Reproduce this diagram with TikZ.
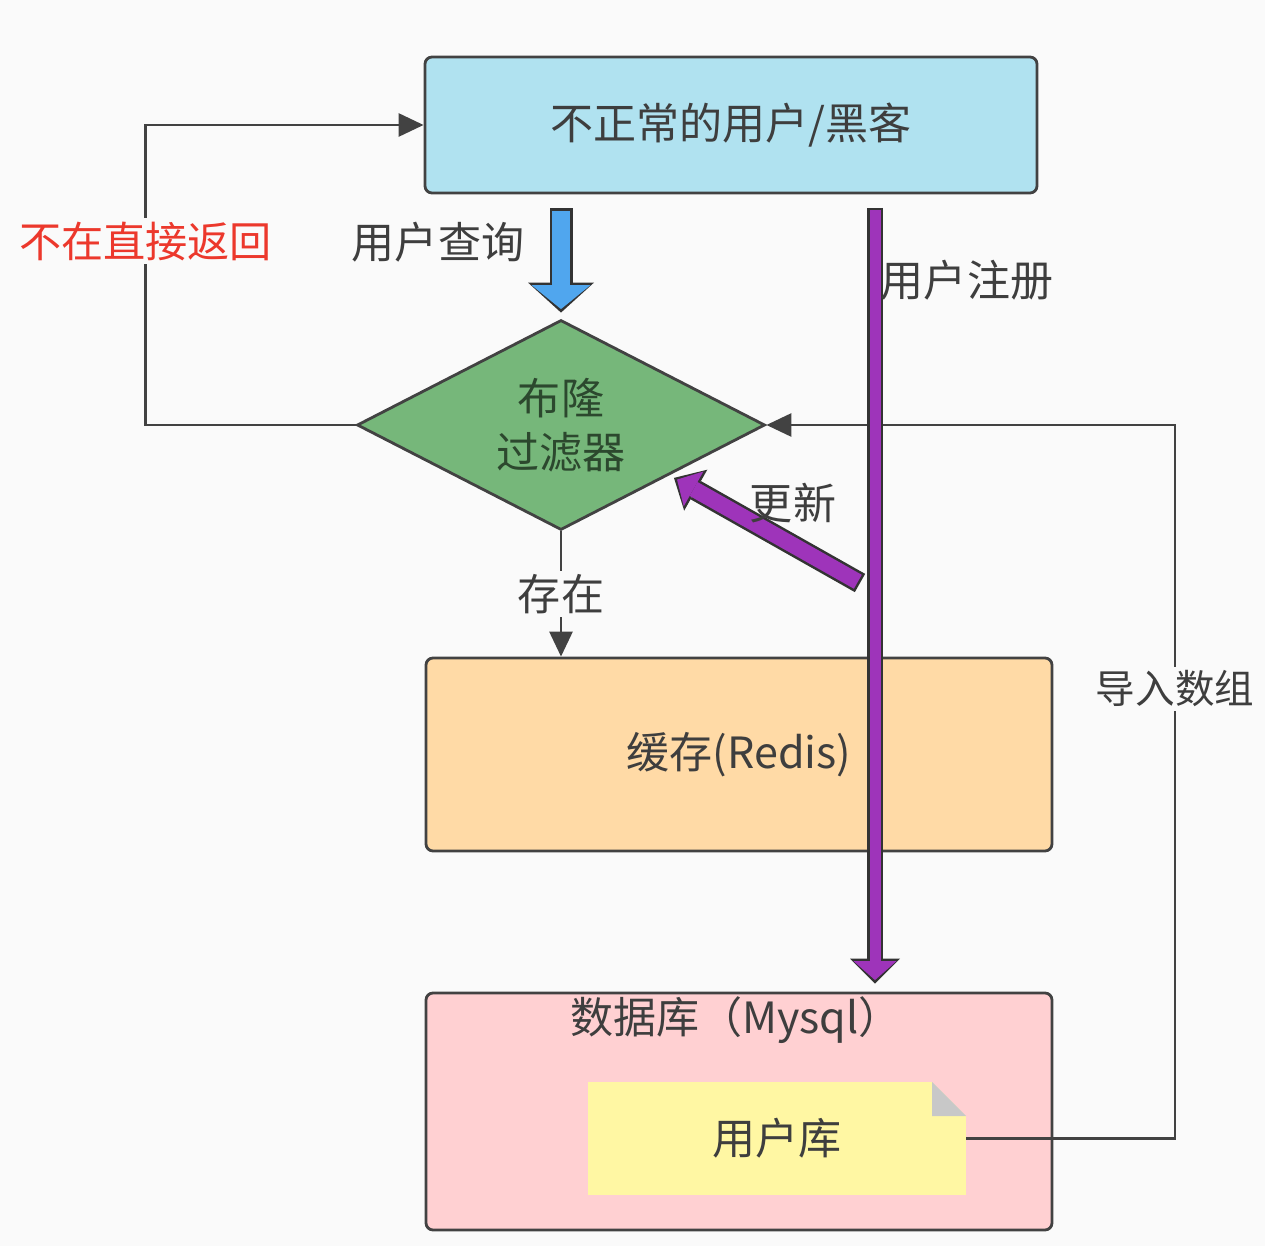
\documentclass[tikz,border=0pt]{standalone}
\usepackage{fontspec}
\setmainfont{Noto Sans CJK SC}
\usepackage{tikz}
\usetikzlibrary{arrows.meta, positioning, calc, shapes.geometric}

\definecolor{usercyan}{RGB}{176,226,240}
\definecolor{filtergreen}{RGB}{118,183,122}
\definecolor{cachepeach}{RGB}{255,218,166}
\definecolor{dbpink}{RGB}{255,208,210}
\definecolor{noteyellow}{RGB}{255,247,163}
\definecolor{foldgrey}{RGB}{200,200,200}
\definecolor{queryblue}{RGB}{80,166,238}
\definecolor{regpurple}{RGB}{158,52,186}
\definecolor{edgegrey}{RGB}{66,66,66}
\definecolor{textgrey}{RGB}{62,62,62}
\definecolor{backred}{RGB}{236,56,44}
\definecolor{bgwhite}{RGB}{250,250,250}

\begin{document}
\begin{tikzpicture}[>={Triangle[length=0.5cm, width=0.46cm]},
  font=\fontsize{24.5}{31}\selectfont, text=textgrey,
  box/.style={draw=edgegrey, line width=1.6pt, rounded corners=4pt},
  link/.style={draw=edgegrey, line width=1.6pt, ->},
  gap/.style={fill=bgwhite, inner sep=2pt},
  fatout/.style={line width=#1, draw=black!80},
  fatin/.style={line width=#1, shorten <=0.05cm, shorten >=0.07cm}]
  % canvas
  \fill[bgwhite] (0,0) rectangle (25.3,-24.92);
  \useasboundingbox (0,0) rectangle (25.3,-24.92);

  % abnormal user / hacker on top
  \node[box, fill=usercyan, minimum width=12.24cm, minimum height=2.72cm] (user) at (14.62,-2.5) {不正常的用户/黑客};

  % Bloom filter as a green diamond
  \node[draw=edgegrey, line width=1.6pt, fill=filtergreen, diamond, aspect=2, inner sep=0pt, minimum width=8.16cm, minimum height=4.2cm, align=center, text={rgb,255:red,44;green,72;blue,46}] (filter) at (11.22,-8.5) {布隆\\过滤器};

  % cache and database
  \node[box, fill=cachepeach, minimum width=12.52cm, minimum height=3.86cm] (cache) at (14.78,-15.09) {缓存(Redis)};
  \node[box, fill=dbpink, minimum width=12.52cm, minimum height=4.74cm, label={[anchor=center, xshift=-0.06cm, yshift=-0.58cm]north:数据库（Mysql）}] (db) at (14.78,-22.23) {};

  % user table: a note with a folded corner
  \node[fill=noteyellow, outer sep=0pt, minimum width=7.56cm, minimum height=2.26cm] (userdb) at (15.54,-22.77) {用户库};
  \fill[dbpink] ([xshift=-0.68cm]userdb.north east) -- (userdb.north east) -- ([yshift=-0.68cm]userdb.north east) -- cycle;
  \fill[foldgrey] ([xshift=-0.68cm]userdb.north east) -- ([yshift=-0.68cm]userdb.north east) -- ([xshift=-0.68cm, yshift=-0.68cm]userdb.north east) -- cycle;

  % thin connectors
  \draw[link] (filter.west) -- ++(-4.2,0) |- node[gap, pos=0.306, text=backred, font=\fontsize{24}{28}\selectfont] {不在直接返回} (user.west);
  \draw[link] (filter.south) -- node[gap] {存在} (filter.south |- cache.north);
  \draw[link] (userdb.east) -- ++(4.18,0) |- node[gap, pos=0.315, font=\fontsize{22.5}{27}\selectfont] {导入数组} (filter.east);

  % ends of the fat arrows
  \coordinate (qtop) at ($(filter.north |- user.south)+(0,-0.28)$);
  \coordinate (qend) at ($(filter.north)+(0,0.12)$);
  \coordinate (regtop) at (17.5,-4.16);
  \coordinate (regend) at ($(regtop |- db.north)+(0,0.16)$);
  \coordinate (updfrom) at (17.2,-11.66);
  \coordinate (updto) at ($(filter.east)!0.45!(filter.south)+(0,-0.1)$);

  % user query (blue)
  \draw[fatout=0.46cm, -{Triangle[length=0.6cm, width=1.32cm, line width=0pt]}] (qtop) -- (qend);
  \draw[fatin=0.36cm, queryblue, -{Triangle[length=0.48cm, width=1.18cm, line width=0pt]}] (qtop) -- (qend);

  % user registration (purple) into the database
  \draw[fatout=0.32cm, -{Triangle[length=0.5cm, width=1.0cm, line width=0pt]}] (regtop) -- (regend);
  \draw[fatin=0.22cm, regpurple, -{Triangle[length=0.38cm, width=0.86cm, line width=0pt]}] (regtop) -- (regend);

  % update of the filter
  \draw[fatout=0.42cm, -{Triangle[length=0.5cm, width=0.94cm, line width=0pt]}] (updfrom) -- (updto);
  \draw[fatin=0.32cm, regpurple, -{Triangle[length=0.38cm, width=0.8cm, line width=0pt]}] (updfrom) -- (updto);

  % labels of the fat arrows
  \node (qlabel) at (8.76,-4.84) {用户查询};
  \node (reglabel) at (19.34,-5.6) {用户注册};
  \node (updlabel) at (15.86,-10.06) {更新};
\end{tikzpicture}
\end{document}
